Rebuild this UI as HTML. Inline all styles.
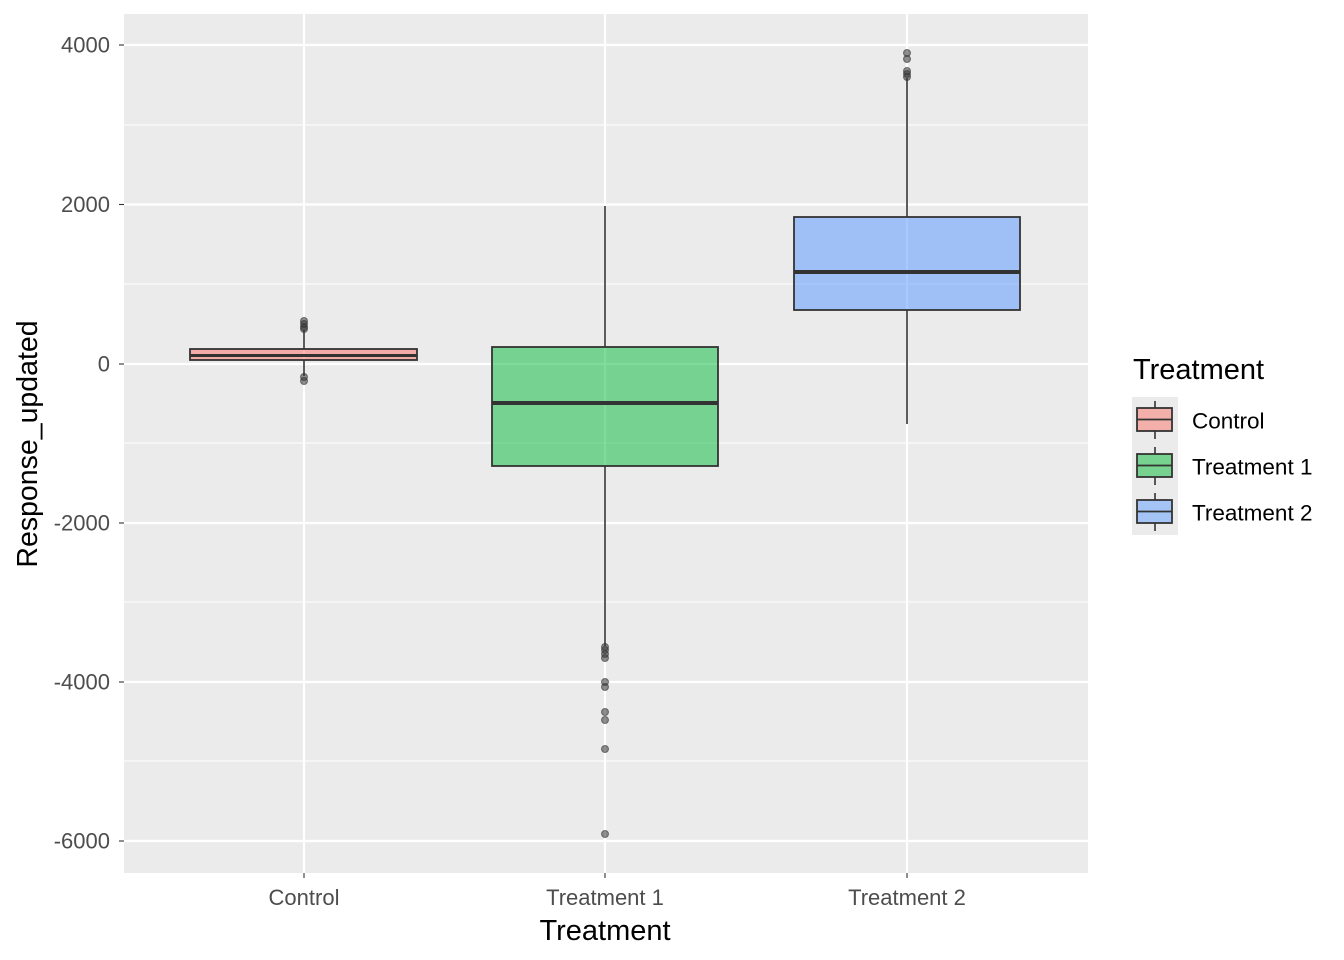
<!DOCTYPE html>
<html><head><style>body{margin:0;background:#fff}svg{display:block}</style></head><body>
<svg width="1344" height="960" xmlns="http://www.w3.org/2000/svg" font-family="Liberation Sans, sans-serif">
<rect x="124" y="14" width="964" height="859" fill="#EBEBEB"/>
<g stroke="#fff" stroke-width="1.1">
<line x1="124" x2="1088" y1="125" y2="125"/><line x1="124" x2="1088" y1="284" y2="284"/>
<line x1="124" x2="1088" y1="443" y2="443"/><line x1="124" x2="1088" y1="602" y2="602"/>
<line x1="124" x2="1088" y1="761" y2="761"/>
</g>
<g stroke="#fff" stroke-width="2.2">
<line x1="124" x2="1088" y1="45" y2="45"/><line x1="124" x2="1088" y1="204.5" y2="204.5"/>
<line x1="124" x2="1088" y1="364" y2="364"/><line x1="124" x2="1088" y1="523" y2="523"/>
<line x1="124" x2="1088" y1="682" y2="682"/><line x1="124" x2="1088" y1="841" y2="841"/>
<line x1="304" x2="304" y1="14" y2="873"/><line x1="605" x2="605" y1="14" y2="873"/><line x1="907" x2="907" y1="14" y2="873"/>
</g>
<g stroke="#333" stroke-width="1.6">
<line x1="304" x2="304" y1="330" y2="349"/><line x1="304" x2="304" y1="360" y2="376"/>
<line x1="605" x2="605" y1="206" y2="347"/><line x1="605" x2="605" y1="466" y2="646"/>
<line x1="907" x2="907" y1="78" y2="217"/><line x1="907" x2="907" y1="310" y2="424"/>
</g>
<rect x="190" y="349" width="227" height="11" fill="#F8766D" fill-opacity="0.55" stroke="#333" stroke-width="1.8"/>
<line x1="190" x2="417" y1="355.5" y2="355.5" stroke="#333" stroke-width="3"/>
<rect x="492" y="347" width="226" height="119" fill="#00BA38" fill-opacity="0.5" stroke="#333" stroke-width="1.8"/>
<line x1="492" x2="718" y1="403" y2="403" stroke="#333" stroke-width="4"/>
<rect x="794" y="217" width="226" height="93" fill="#619CFF" fill-opacity="0.55" stroke="#333" stroke-width="1.8"/>
<line x1="794" x2="1020" y1="272" y2="272" stroke="#333" stroke-width="4"/>
<g fill="#333" fill-opacity="0.55" stroke="#333" stroke-opacity="0.6">
<circle cx="304" cy="321" r="3.5"/><circle cx="304" cy="324" r="3.5"/><circle cx="304" cy="327" r="3.5"/><circle cx="304" cy="329" r="3.5"/>
<circle cx="304" cy="377" r="3.5"/><circle cx="304" cy="381" r="3.5"/>
<circle cx="605" cy="647" r="3.5"/><circle cx="605" cy="650" r="3.5"/><circle cx="605" cy="654" r="3.5"/><circle cx="605" cy="658" r="3.5"/>
<circle cx="605" cy="682" r="3.5"/><circle cx="605" cy="687" r="3.5"/><circle cx="605" cy="712" r="3.5"/><circle cx="605" cy="720" r="3.5"/>
<circle cx="605" cy="749" r="3.5"/><circle cx="605" cy="834" r="3.5"/>
<circle cx="907" cy="53" r="3.5"/><circle cx="907" cy="59" r="3.5"/><circle cx="907" cy="71" r="3.5"/><circle cx="907" cy="74" r="3.5"/><circle cx="907" cy="77" r="3.5"/>
</g>
<g stroke="#333" stroke-width="1.1">
<line x1="119" x2="124" y1="45" y2="45"/><line x1="119" x2="124" y1="204.5" y2="204.5"/><line x1="119" x2="124" y1="364" y2="364"/>
<line x1="119" x2="124" y1="523" y2="523"/><line x1="119" x2="124" y1="682" y2="682"/><line x1="119" x2="124" y1="841" y2="841"/>
<line x1="304" x2="304" y1="873" y2="878"/><line x1="605" x2="605" y1="873" y2="878"/><line x1="907" x2="907" y1="873" y2="878"/>
</g>
<g font-size="22" fill="#4D4D4D" text-anchor="end">
<text x="110" y="52.5">4000</text><text x="110" y="212">2000</text><text x="110" y="371.5">0</text>
<text x="110" y="530.5">-2000</text><text x="110" y="689.5">-4000</text><text x="110" y="848.5">-6000</text>
</g>
<g font-size="22" fill="#4D4D4D" text-anchor="middle">
<text x="304" y="905">Control</text><text x="605" y="905">Treatment 1</text><text x="907" y="905">Treatment 2</text>
</g>
<text x="605" y="940" font-size="29" text-anchor="middle">Treatment</text>
<text transform="translate(37,444) rotate(-90)" font-size="28.5" text-anchor="middle">Response_updated</text>
<text x="1133" y="379" font-size="29">Treatment</text>
<rect x="1132" y="397" width="46" height="138" fill="#EBEBEB"/>
<g stroke="#333" stroke-width="1.6">
<line x1="1155" x2="1155" y1="401" y2="439"/><line x1="1155" x2="1155" y1="447" y2="485"/><line x1="1155" x2="1155" y1="493" y2="531"/>
</g>
<g stroke="#333" stroke-width="1.8">
<rect x="1137" y="408" width="35" height="23" fill="#F3B0AB"/><line x1="1137" x2="1172" y1="419.5" y2="419.5"/>
<rect x="1137" y="454" width="35" height="23" fill="#77D28F"/><line x1="1137" x2="1172" y1="465.5" y2="465.5"/>
<rect x="1137" y="500" width="35" height="23" fill="#A5C4F6"/><line x1="1137" x2="1172" y1="511.5" y2="511.5"/>
</g>
<g font-size="22.5">
<text x="1192" y="428.5">Control</text><text x="1192" y="474.5">Treatment 1</text><text x="1192" y="520.5">Treatment 2</text>
</g>
</svg>
</body></html>
